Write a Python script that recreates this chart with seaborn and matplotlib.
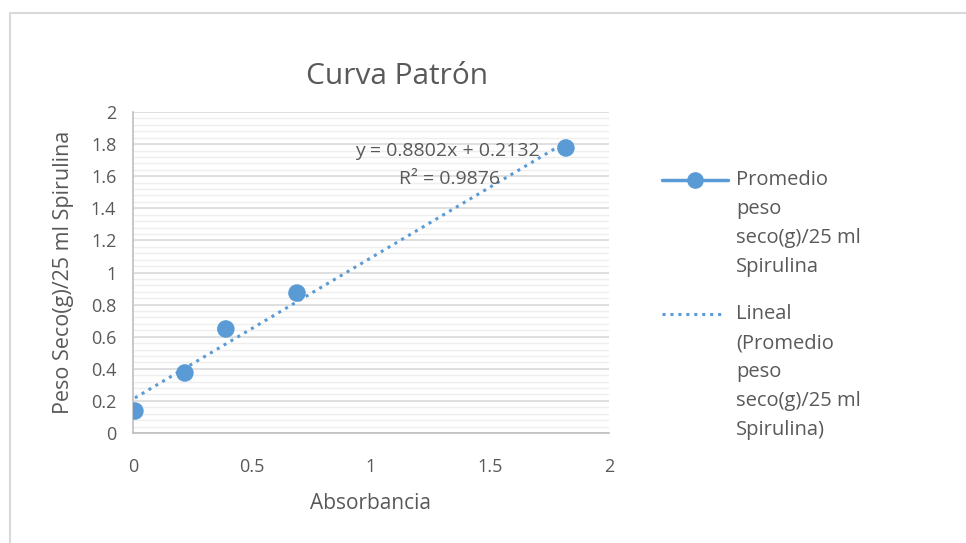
import matplotlib
matplotlib.use("Agg")
from matplotlib import pyplot as plt
from matplotlib.lines import Line2D
from matplotlib.patches import Rectangle
from matplotlib.ticker import MultipleLocator
import numpy as np
import pandas as pd
import seaborn as sns

# values
absorbancia = [0.008, 0.218, 0.39, 0.689, 1.819]
peso_seco = [0.137, 0.374, 0.648, 0.872, 1.776]
eq_text = "y = 0.8802x + 0.2132"
r2_text = "R² = 0.9876"
serie = ["Promedio", "peso", "seco(g)/25 ml", "Spirulina"]
tendencia = ["Lineal", "(Promedio", "peso", "seco(g)/25 ml", "Spirulina)"]

df = pd.DataFrame({"x": absorbancia, "y": peso_seco})

sns.set_style("white")
plt.rcParams["font.family"] = ["Open Sans", "DejaVu Sans"]
gris = "#595959"
azul = "#5B9BD5"
punteado = (0, (1, 1.6))

fig = plt.figure(figsize=(9.66, 5.43), dpi=100)
W, H = 966, 543
ax = fig.add_axes([133 / W, 110 / H, (609 - 133) / W, (433 - 112) / H])

# chart border like the excel chart area
fig.patches.append(Rectangle((10 / W, -0.1), 1.2, (H - 13) / H + 0.1,
                             transform=fig.transFigure, fill=False,
                             edgecolor="#d9d9d9", lw=1.5))

sns.regplot(data=df, x="x", y="y", ax=ax, ci=None, scatter=False,
            line_kws=dict(color=azul, lw=2.2, linestyle=punteado))
sns.scatterplot(data=df, x="x", y="y", ax=ax, color=azul, s=160,
                edgecolor="none", zorder=5)

ax.set_xlim(0, 2)
ax.set_ylim(0, 2)
ax.yaxis.set_minor_locator(MultipleLocator(0.04))
ax.grid(axis="y", which="major", color="#d9d9d9", lw=1.2)
ax.grid(axis="y", which="minor", color="#eeeeee", lw=1.0)
ax.set_axisbelow(True)
ax.set_xticks([0, 0.5, 1, 1.5, 2], ["0", "0.5", "1", "1.5", "2"])
ax.set_yticks(np.arange(0, 2.01, 0.2),
              ["0", "0.2", "0.4", "0.6", "0.8", "1", "1.2", "1.4", "1.6", "1.8", "2"])

for s in ["top", "right"]:
    ax.spines[s].set_visible(False)
for s in ["left", "bottom"]:
    ax.spines[s].set_color("#bfbfbf")
    ax.spines[s].set_linewidth(1.2)
ax.tick_params(which="major", length=8, width=1.2, color="#bfbfbf",
               labelsize=13, labelcolor=gris, pad=4)
ax.tick_params(which="minor", length=0)
ax.tick_params(axis="x", pad=10)

ax.set_title("Curva Patrón", fontsize=21.5, color=gris, pad=20, x=0.555)
ax.set_xlabel("Absorbancia", fontsize=15, color=gris, labelpad=12)
ax.set_ylabel("Peso Seco(g)/25 ml Spirulina", fontsize=15.5, color=gris, labelpad=12)

ax.text(0.66, 0.878, eq_text, transform=ax.transAxes, ha="center",
        va="center", fontsize=14, color=gris)
ax.text(0.664, 0.79, r2_text, transform=ax.transAxes, ha="center",
        va="center", fontsize=14, color=gris)

# legend drawn by hand so each key sits on the first line of its label
def clave(x0, x1, y, **kw):
    fig.add_artist(Line2D([x0 / W, x1 / W], [1 - y / H, 1 - y / H],
                          transform=fig.transFigure, color=azul, **kw))

clave(662, 728, 180, lw=2.5)
fig.add_artist(Line2D([695 / W], [1 - 180 / H], transform=fig.transFigure,
                      color=azul, marker="o", markersize=11, lw=0))
clave(662, 724, 314, lw=2.2, linestyle=punteado)
for lineas, y0 in [(serie, 180), (tendencia, 314)]:
    for i, txt in enumerate(lineas):
        fig.text(736 / W, 1 - (y0 + 29 * i) / H, txt, fontsize=14.5,
                 color=gris, ha="left", va="center")

fig.savefig("out.png", dpi=100)
